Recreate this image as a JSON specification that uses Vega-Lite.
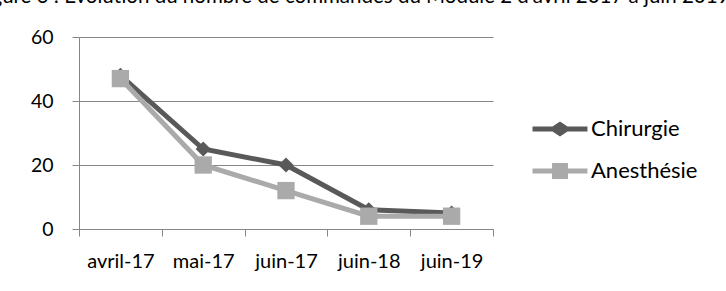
{
  "$schema": "https://vega.github.io/schema/vega-lite/v6.json",
  "autosize": "none",
  "width": 414,
  "height": 192,
  "padding": {"left": 79, "top": 37, "right": 233, "bottom": 62},
  "background": "white",
  "title": {
    "text": "Figure 3 : Evolution du nombre de commandes du Module 2 d'avril 2017 à juin 2019",
    "anchor": "start",
    "frame": "group",
    "font": "Lato",
    "fontSize": 20.5,
    "fontWeight": "normal",
    "color": "black",
    "baseline": "bottom",
    "dx": -104,
    "offset": 0
  },
  "config": {"font": "Lato", "view": {"stroke": null}},
  "data": {
    "values": [
      {"mois": "avril-17", "serie": "Chirurgie", "valeur": 48},
      {"mois": "mai-17", "serie": "Chirurgie", "valeur": 25},
      {"mois": "juin-17", "serie": "Chirurgie", "valeur": 20},
      {"mois": "juin-18", "serie": "Chirurgie", "valeur": 6},
      {"mois": "juin-19", "serie": "Chirurgie", "valeur": 5},
      {"mois": "avril-17", "serie": "Anesthésie", "valeur": 47},
      {"mois": "mai-17", "serie": "Anesthésie", "valeur": 20},
      {"mois": "juin-17", "serie": "Anesthésie", "valeur": 12},
      {"mois": "juin-18", "serie": "Anesthésie", "valeur": 4},
      {"mois": "juin-19", "serie": "Anesthésie", "valeur": 4}
    ]
  },
  "encoding": {
    "x": {
      "field": "mois",
      "type": "ordinal",
      "sort": ["avril-17", "mai-17", "juin-17", "juin-18", "juin-19"],
      "scale": {"paddingInner": 0, "paddingOuter": 0},
      "axis": {
        "title": null,
        "labelAngle": 0,
        "tickBand": "extent",
        "domainColor": "#868686",
        "tickColor": "#868686",
        "tickSize": 7,
        "labelFontSize": 20,
        "labelColor": "black",
        "labelPadding": 15
      }
    },
    "y": {
      "field": "valeur",
      "type": "quantitative",
      "scale": {"domain": [0, 60]},
      "axis": {
        "title": null,
        "values": [0, 20, 40, 60],
        "gridColor": "#868686",
        "domainColor": "#868686",
        "tickColor": "#868686",
        "tickSize": 7,
        "labelFontSize": 19.5,
        "labelPadding": 19,
        "labelColor": "black"
      }
    },
    "color": {
      "field": "serie",
      "type": "nominal",
      "scale": {"domain": ["Chirurgie", "Anesthésie"], "range": ["#595959", "#aaaaaa"]},
      "legend": {
        "orient": "none",
        "legendX": 466,
        "legendY": 77,
        "title": null,
        "labelFontSize": 22,
        "labelColor": "black",
        "symbolSize": 900,
        "labelOffset": 16,
        "rowPadding": 16,
        "symbolStrokeWidth": 0,
        "encode": {
          "symbols": {
            "update": {
              "shape": {"signal": "datum.value === 'Chirurgie' ? 'M-1.83,-0.17L-0.5,-0.17L0,-0.5L0.5,-0.17L1.83,-0.17L1.83,0.17L0.5,0.17L0,0.5L-0.5,0.17L-1.83,0.17Z' : 'M-1.83,-0.17L-0.53,-0.17L-0.53,-0.53L0.53,-0.53L0.53,-0.17L1.83,-0.17L1.83,0.17L0.53,0.17L0.53,0.53L-0.53,0.53L-0.53,0.17L-1.83,0.17Z'"},
              "fill": {"signal": "datum.value === 'Chirurgie' ? '#595959' : '#aaaaaa'"},
              "strokeWidth": {"value": 0},
              "opacity": {"value": 1}
            }
          }
        }
      }
    }
  },
  "layer": [
    {"mark": {"type": "line", "strokeWidth": 5}},
    {
      "transform": [{"filter": "datum.serie === 'Chirurgie'"}],
      "mark": {"type": "point", "shape": "diamond", "filled": true, "opacity": 1, "size": 230}
    },
    {
      "transform": [{"filter": "datum.serie === 'Anesthésie'"}],
      "mark": {"type": "point", "shape": "square", "filled": true, "opacity": 1, "size": 300}
    }
  ]
}
